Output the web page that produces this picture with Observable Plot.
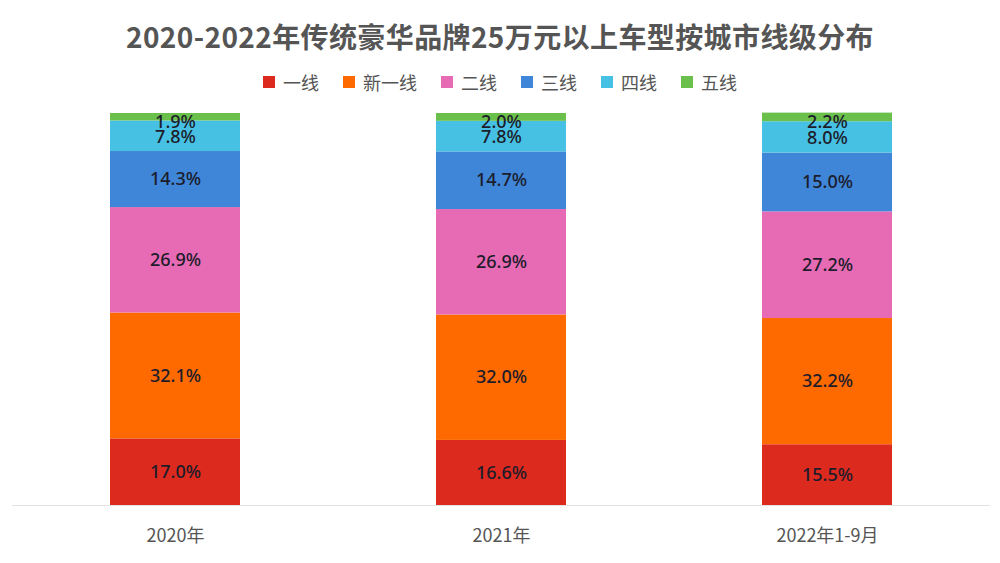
<!DOCTYPE html>
<html>
<head>
<meta charset="utf-8">
<script src="https://cdn.jsdelivr.net/npm/d3@7"></script>
<script src="https://cdn.jsdelivr.net/npm/@observablehq/plot@0.6"></script>
<style>
  html, body { margin: 0; padding: 0; background: #fff; }
  body { width: 1000px; height: 563px; overflow: hidden; font-family: "Noto Sans CJK SC", "Noto Sans", sans-serif; }
  #title { position: absolute; left: 0; top: 14px; width: 1000px; text-align: center; font-size: 28px; font-weight: 700; color: #555; letter-spacing: 0.4px; line-height: 44px; }
  #legend { position: absolute; left: 0; top: 70px; width: 1000px; display: flex; justify-content: center; gap: 24px; font-size: 18px; color: #555; line-height: 24px; }
  .item { display: flex; align-items: center; gap: 8px; }
  .sw { width: 12px; height: 12px; display: inline-block; }
  #chart { position: absolute; left: 0; top: 100px; }
</style>
</head>
<body>
<div id="title"></div>
<div id="legend"></div>
<div id="chart"></div>
<script>
const titleText = "2020-2022年传统豪华品牌25万元以上车型按城市线级分布";
const years = ["2020年", "2021年", "2022年1-9月"];
const tiers = ["一线", "新一线", "二线", "三线", "四线", "五线"];
const colors = ["#dd2a1f", "#fe6a00", "#e66bb4", "#3f86d9", "#47c1e3", "#6bbf4b"];
const tier1 = [17.0, 16.6, 15.5];
const newTier1 = [32.1, 32.0, 32.2];
const tier2 = [26.9, 26.9, 27.2];
const tier3 = [14.3, 14.7, 15.0];
const tier4 = [7.8, 7.8, 8.0];
const tier5 = [1.9, 2.0, 2.2];

const series = [tier1, newTier1, tier2, tier3, tier4, tier5];
const data = [];
series.forEach((vals, i) => vals.forEach((v, j) => data.push({year: years[j], tier: tiers[i], value: v})));

document.getElementById("title").textContent = titleText;
const legend = document.getElementById("legend");
tiers.forEach((t, i) => {
  const it = document.createElement("div");
  it.className = "item";
  it.innerHTML = `<span class="sw" style="background:${colors[i]}"></span><span>${t}</span>`;
  legend.appendChild(it);
});

// one text mark per label offset group; stacking is done over all rows so positions stay correct
const labelOpts = (dy, keep) => Plot.stackY({
  x: "year", y: "value", z: "tier", order: tiers,
  text: d => keep(d) ? d.value.toFixed(1) + "%" : "",
  dy,
  fill: "#1c1c2a", fontSize: 18, fontWeight: 500, fontFamily: "'Noto Sans', sans-serif"
});

const chart = Plot.plot({
  width: 1000,
  height: 463,
  marginLeft: 12,
  marginRight: 10,
  marginTop: 13,
  marginBottom: 58,
  style: {fontFamily: "'Noto Sans CJK SC', 'Noto Sans', sans-serif", background: "#fff"},
  x: {domain: years, paddingInner: 0.6, paddingOuter: 0.3, label: null},
  y: {domain: [0, 100], axis: null},
  color: {domain: tiers, range: colors},
  marks: [
    Plot.barY(data, Plot.stackY({x: "year", y: "value", fill: "tier", order: tiers})),
    Plot.ruleY([0], {stroke: "#e3e3e3", strokeWidth: 1}),
    Plot.axisX({tickSize: 0, tickPadding: 24, fontSize: 18, fill: "#555", label: null}),
    Plot.text(data, labelOpts(0, d => d.tier !== "五线" && d.tier !== "四线")),
    Plot.text(data, labelOpts(1, d => d.tier === "四线")),
    Plot.text(data, labelOpts(5, d => d.tier === "五线"))
  ]
});
document.getElementById("chart").appendChild(chart);
</script>
</body>
</html>
